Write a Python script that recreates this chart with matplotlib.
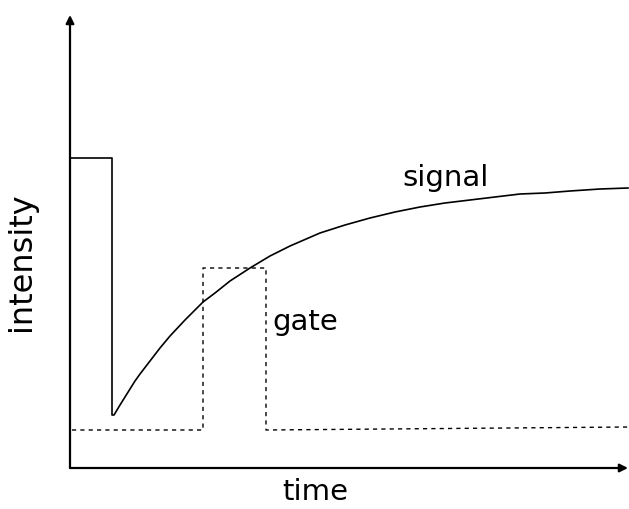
import matplotlib.pyplot as plt

# signal (solid) and gate (dashed), time / intensity in arbitrary units
sig_t = [0, 42, 42, 44, 50, 55, 60, 65, 70, 80, 90, 100, 115, 125, 133, 145, 160, 180, 200, 220,
         250, 275, 300, 325, 350, 375, 400, 425, 450, 475, 500, 530, 558]
sig_i = [310, 310, 53, 53, 63, 71, 79, 87, 94, 107, 120, 132, 148, 158, 166, 175, 187, 200, 212, 222,
         235, 243, 250, 256, 261, 265, 268, 271, 274, 275, 277, 279, 280]

gate_t = [2, 133, 133, 196, 196, 558]
gate_i = [38, 38, 200, 200, 38, 41]

fig = plt.figure(figsize=(6.29, 5.09), dpi=100)
ax = fig.add_axes([70 / 629, 41 / 509, 558 / 629, 453 / 509])
ax.set_xlim(0, 558)
ax.set_ylim(0, 453)
ax.axis('off')

ax.plot(sig_t, sig_i, color='black', lw=1.2, clip_on=False)
ax.plot(gate_t, gate_i, color='black', lw=1.0, linestyle=(0, (3, 3)), clip_on=False)

# axes with arrows
arrow = dict(arrowstyle='-|>', lw=1.6, color='black', mutation_scale=12, shrinkA=0, shrinkB=0)
ax.annotate('', xy=(558, 0), xytext=(0, 0), arrowprops=arrow, annotation_clip=False)
ax.annotate('', xy=(0, 453), xytext=(0, 0), arrowprops=arrow, annotation_clip=False)

ax.text(376, 290, 'signal', fontsize=21, ha='center', va='center')
ax.text(235, 146, 'gate', fontsize=21, ha='center', va='center')
fig.text(315 / 629, 1 - 492 / 509, 'time', fontsize=21, ha='center', va='center')
fig.text(22 / 629, 1 - 262 / 509, 'intensity', fontsize=23, ha='center', va='center', rotation=90)

fig.savefig('out.png', dpi=100)
